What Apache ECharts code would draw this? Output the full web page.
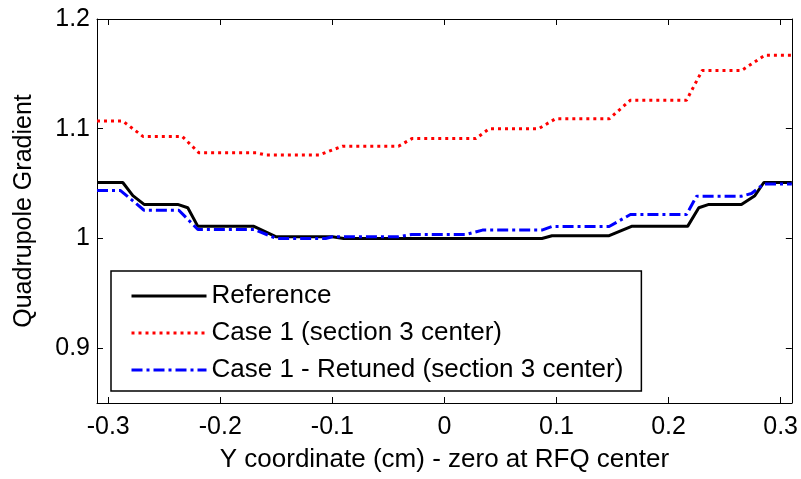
<!DOCTYPE html>
<html><head><meta charset="utf-8">
<script src="https://cdn.jsdelivr.net/npm/echarts@6/dist/echarts.min.js"></script>
<style>html,body{margin:0;padding:0;background:#fff}#c{width:801px;height:479px}</style>
</head><body><div id="c"></div>
<script>
const seriesNames=['Reference','Case 1 (section 3 center)','Case 1 - Retuned (section 3 center)'];
const refX=[-0.31,-0.287,-0.278,-0.268,-0.238,-0.229,-0.220,-0.170,-0.150,-0.100,-0.090,0.087,0.096,0.147,0.167,0.217,0.227,0.236,0.265,0.277,0.285,0.31];
const refY=[1.051,1.051,1.039,1.031,1.031,1.028,1.011,1.011,1.0015,1.0015,1.000,1.000,1.0025,1.0025,1.011,1.011,1.028,1.031,1.031,1.039,1.051,1.051];
const case1X=[-0.31,-0.287,-0.269,-0.234,-0.219,-0.168,-0.159,-0.112,-0.091,-0.041,-0.029,0.028,0.040,0.084,0.099,0.147,0.166,0.216,0.230,0.265,0.286,0.31];
const case1Y=[1.107,1.107,1.093,1.093,1.078,1.078,1.076,1.076,1.084,1.084,1.091,1.091,1.100,1.100,1.109,1.109,1.126,1.126,1.153,1.153,1.167,1.167];
const retX=[-0.31,-0.289,-0.268,-0.237,-0.220,-0.170,-0.150,-0.106,-0.100,-0.041,-0.029,0.019,0.034,0.087,0.096,0.147,0.166,0.216,0.225,0.265,0.274,0.285,0.31];
const retY=[1.0436,1.0436,1.0257,1.0257,1.0082,1.0082,1.000,1.000,1.0015,1.0015,1.0036,1.0036,1.0076,1.0076,1.0109,1.0109,1.0218,1.0218,1.0385,1.0385,1.041,1.0497,1.0497];
const xTicks=[-0.3,-0.2,-0.1,0,0.1,0.2,0.3];
const yTicks=[0.9,1,1.1,1.2];
const xTitle='Y coordinate (cm) - zero at RFQ center';
const yTitle='Quadrupole Gradient';

const zip=(a,b)=>a.map((v,i)=>[v,b[i]]);
const FONT="'Liberation Sans', Arial, sans-serif";
const fmt=v=>String(+(+v).toFixed(2));
const baseLine={show:true,onZero:false,lineStyle:{color:'#000',width:1}};
const chart=echarts.init(document.getElementById('c'),null,{renderer:'canvas'});
chart.setOption({
  animation:false,
  backgroundColor:'#fff',
  textStyle:{fontFamily:FONT},
  grid:{left:97,right:8,top:19,bottom:76,containLabel:false},
  xAxis:[
    {type:'value',min:-0.31,max:0.31,position:'bottom',
     axisLine:baseLine,
     axisTick:{show:true,inside:true,length:6,customValues:xTicks,lineStyle:{color:'#000',width:1}},
     axisLabel:{show:true,customValues:xTicks,formatter:fmt,fontSize:25,color:'#000',fontFamily:FONT,margin:12},
     splitLine:{show:false},
     name:xTitle,nameLocation:'middle',nameGap:44,
     nameTextStyle:{fontSize:26,color:'#000',fontFamily:FONT}},
    {type:'value',min:-0.31,max:0.31,position:'top',
     axisLine:baseLine,
     axisTick:{show:true,inside:true,length:6,customValues:xTicks,lineStyle:{color:'#000',width:1}},
     axisLabel:{show:false},splitLine:{show:false}}
  ],
  yAxis:[
    {type:'value',min:0.85,max:1.2,position:'left',
     axisLine:baseLine,
     axisTick:{show:true,inside:true,length:6,customValues:yTicks,lineStyle:{color:'#000',width:1}},
     axisLabel:{show:true,customValues:yTicks,formatter:fmt,fontSize:25,color:'#000',fontFamily:FONT,margin:7},
     splitLine:{show:false},
     name:yTitle,nameLocation:'middle',nameGap:60,nameRotate:90,
     nameTextStyle:{fontSize:25,color:'#000',fontFamily:FONT}},
    {type:'value',min:0.85,max:1.2,position:'right',
     axisLine:baseLine,
     axisTick:{show:true,inside:true,length:6,customValues:yTicks,lineStyle:{color:'#000',width:1}},
     axisLabel:{show:false},splitLine:{show:false}}
  ],
  legend:{
    orient:'vertical',left:111,top:271,
    backgroundColor:'#fff',borderColor:'#000',borderWidth:1.5,
    padding:[11,18,7,19],itemGap:9,itemWidth:75,itemHeight:14,
    itemStyle:{opacity:0},
    lineStyle:{width:3},
    textStyle:{fontSize:26,color:'#000',fontFamily:FONT,lineHeight:28},
    data:seriesNames
  },
  series:[
    {name:seriesNames[0],type:'line',data:zip(refX,refY),symbol:'none',
     lineStyle:{color:'#000',width:3,type:'solid'},itemStyle:{color:'#000'},z:3},
    {name:seriesNames[1],type:'line',data:zip(case1X,case1Y),symbol:'none',
     lineStyle:{color:'#ff0000',width:3,type:[3,4]},itemStyle:{color:'#ff0000'},z:2},
    {name:seriesNames[2],type:'line',data:zip(retX,retY),symbol:'none',
     lineStyle:{color:'#0000ff',width:3,type:[11,4,3,4]},itemStyle:{color:'#0000ff'},z:4}
  ]
});
</script></body></html>
